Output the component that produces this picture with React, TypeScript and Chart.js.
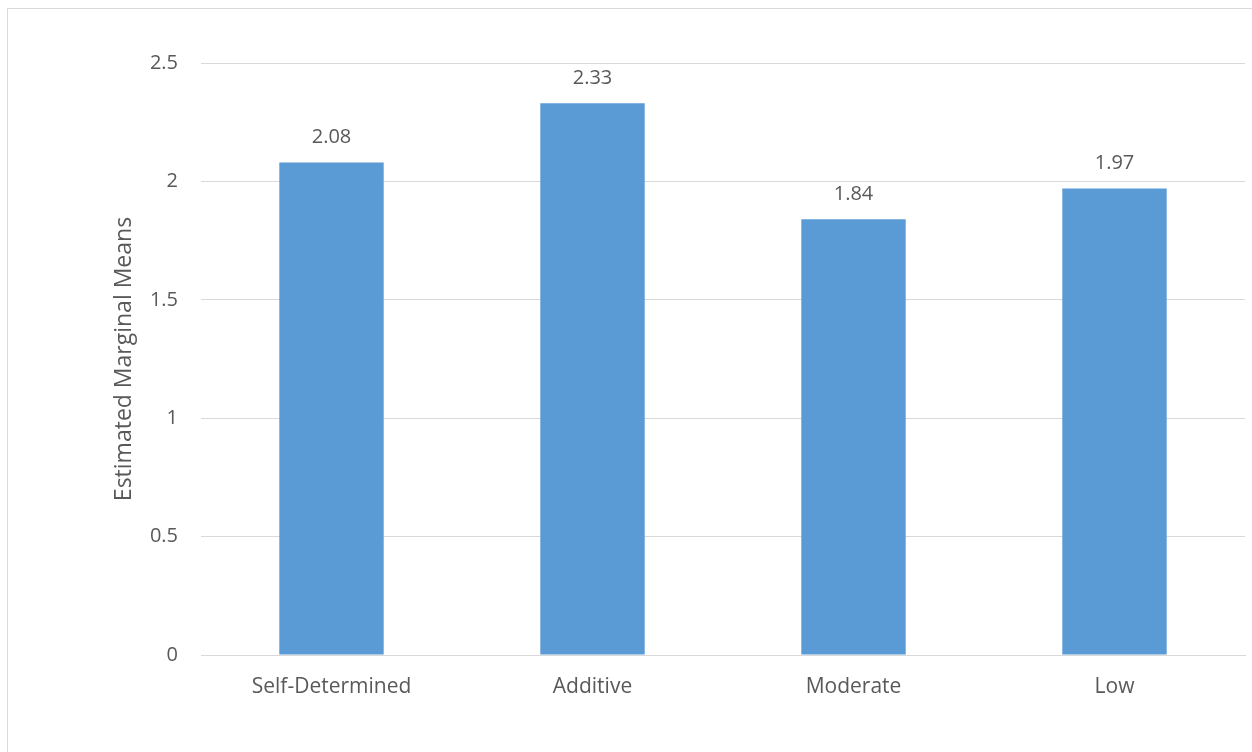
import React, { useEffect, useRef } from "react";
import { Chart, registerables } from "chart.js";

Chart.register(...registerables);

const categories = ["Self-Determined", "Additive", "Moderate", "Low"];
const means = [2.08, 2.33, 1.84, 1.97];
const yTicks = [0, 0.5, 1, 1.5, 2, 2.5];
const yTitle = "Estimated Marginal Means";

const FONT = "'Open Sans', 'Noto Sans', sans-serif";
const TEXT = "#595959";

const valueLabels = {
  id: "valueLabels",
  afterDatasetsDraw(chart: any) {
    const ctx = chart.ctx;
    const meta = chart.getDatasetMeta(0);
    ctx.save();
    ctx.font = `20px ${FONT}`;
    ctx.fillStyle = TEXT;
    ctx.textAlign = "center";
    ctx.textBaseline = "middle";
    meta.data.forEach((bar: any, i: number) => {
      ctx.fillText(means[i].toFixed(2), bar.x, bar.y - 25);
    });
    ctx.restore();
  },
};

export default function App() {
  const ref = useRef<HTMLCanvasElement>(null);
  useEffect(() => {
    if (!ref.current) return;
    const chart = new Chart(ref.current, {
      type: "bar",
      data: {
        labels: categories,
        datasets: [
          {
            data: means,
            backgroundColor: "#5B9BD5",
            barPercentage: 0.4,
            categoryPercentage: 1,
          },
        ],
      },
      options: {
        animation: false,
        responsive: false,
        maintainAspectRatio: false,
        layout: { padding: { top: 63, right: 7, left: 0, bottom: 0 } },
        plugins: {
          legend: { display: false },
          tooltip: { enabled: false },
        },
        scales: {
          x: {
            grid: { display: false, drawTicks: false },
            border: { display: true, color: "#d9d9d9", width: 1 },
            ticks: { color: TEXT, font: { family: FONT, size: 21 }, padding: 19 },
            afterFit(scale: any) {
              scale.height = 97;
            },
          },
          y: {
            min: 0,
            max: 2.5,
            afterBuildTicks(scale: any) {
              scale.ticks = yTicks.map((v) => ({ value: v }));
            },
            grid: { color: "#d9d9d9", drawTicks: false, lineWidth: 1 },
            border: { display: false },
            ticks: {
              color: TEXT,
              font: { family: FONT, size: 20 },
              padding: 23,
              callback: (v: any) => String(v),
            },
            title: {
              display: true,
              text: yTitle,
              color: TEXT,
              font: { family: FONT, size: 23 },
              padding: { top: 111, bottom: 0 },
            },
            afterFit(scale: any) {
              scale.width = 201;
            },
          },
        },
      },
      plugins: [valueLabels],
    });
    return () => chart.destroy();
  }, []);

  return (
    <>
      <div
        style={{
          position: "fixed",
          left: 7,
          top: 8,
          width: 1300,
          height: 800,
          border: "1px solid #d9d9d9",
          boxSizing: "border-box",
        }}
      />
      <canvas
        ref={ref}
        width={1252}
        height={752}
        style={{ position: "fixed", left: 0, top: 0, width: 1252, height: 752 }}
      />
    </>
  );
}
